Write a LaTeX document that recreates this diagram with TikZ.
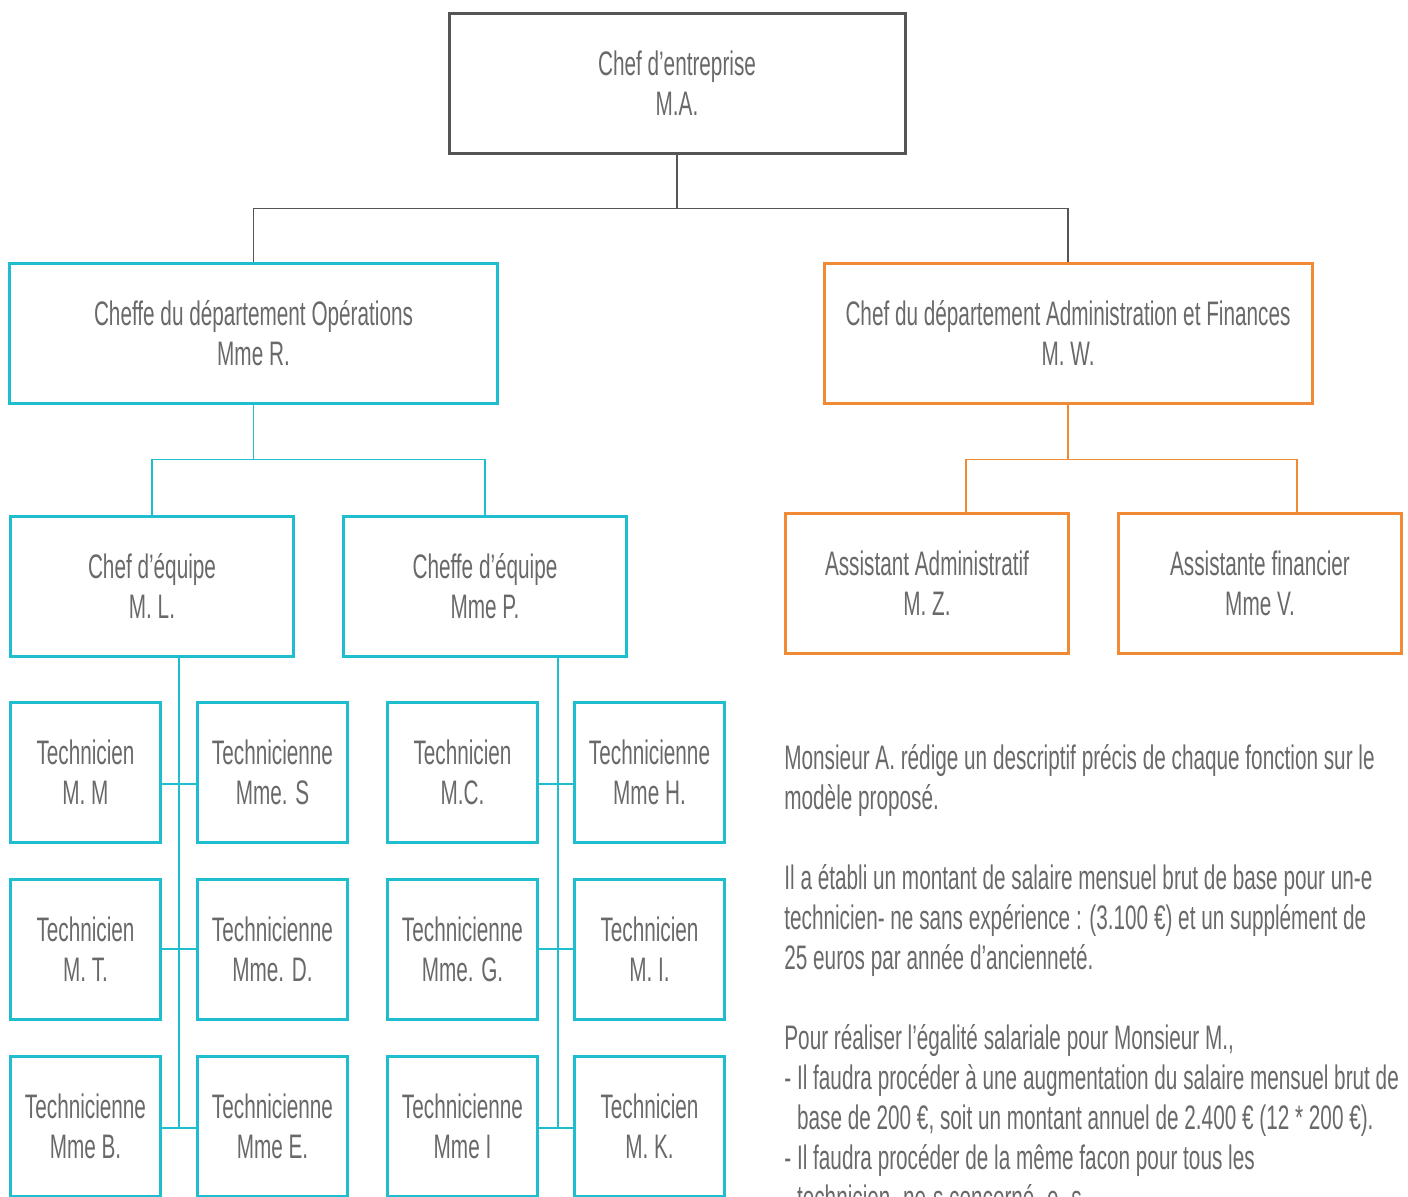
\documentclass[tikz,border=0pt]{standalone}
\usepackage{fontspec}
\setmainfont{Liberation Sans}[FakeStretch=0.61]
\usepackage{tikz}
\usetikzlibrary{shapes,positioning}
\usepackage{xcolor}
\definecolor{bossgray}{RGB}{85,85,85}
\definecolor{txtgray}{RGB}{105,105,105}
\definecolor{opscyan}{RGB}{30,190,206}
\definecolor{finorange}{RGB}{240,138,52}

\begin{document}
\begin{tikzpicture}[x=0.5pt,y=-0.5pt]
        \tikzstyle{block} = [rectangle, draw, line width=1.5pt, text=txtgray, align=center, inner sep=0pt, font=\fontsize{17}{20}\selectfont, minimum height=70pt]
        \tikzstyle{opsblock} = [block, draw=opscyan]
        \tikzstyle{finblock} = [block, draw=finorange]
        \tikzstyle{tech} = [opsblock, minimum width=75pt]
        \tikzstyle{link} = [line width=0.7pt]

        \useasboundingbox (0,0) rectangle (1408,1196);

        \node[block, draw=bossgray, minimum width=228pt] (chef) at (677,83) {Chef d’entreprise\\M.A.};
        \node[opsblock, minimum width=244pt] (ops) at (253.5,333) {Cheffe du département Opérations\\Mme R.};
        \node[finblock, minimum width=244pt] (admin) at (1068,333) {Chef du département Administration et Finances\\M. W.};

        \node[opsblock, minimum width=141.5pt] (ml) at (152,586) {Chef d’équipe\\M. L.};
        \node[opsblock, minimum width=141.5pt] (mp) at (485,586) {Cheffe d’équipe\\Mme P.};
        \node[finblock, minimum width=141.5pt] (asadm) at (927,583) {Assistant Administratif\\M. Z.};
        \node[finblock, minimum width=141.5pt] (asfin) at (1260,583) {Assistante financier\\Mme V.};

        % techniciens
        \node[tech] (tmm) at (85.5,772) {Technicien\\M. M};
        \node[tech] (tms) at (272.5,772) {Technicienne\\Mme. S};
        \node[tech] (tmc) at (462.5,772) {Technicien\\M.C.};
        \node[tech] (tmh) at (649.5,772) {Technicienne\\Mme H.};
        \node[tech] (tmt) at (85.5,949) {Technicien\\M. T.};
        \node[tech] (tmd) at (272.5,949) {Technicienne\\Mme. D.};
        \node[tech] (tmg) at (462.5,949) {Technicienne\\Mme. G.};
        \node[tech] (tmi) at (649.5,949) {Technicien\\M. I.};
        \node[tech] (tmb) at (85.5,1126) {Technicienne\\Mme B.};
        \node[tech] (tme) at (272.5,1126) {Technicienne\\Mme E.};
        \node[tech] (tmmi) at (462.5,1126) {Technicienne\\Mme I};
        \node[tech] (tmk) at (649.5,1126) {Technicien\\M. K.};

        \draw[link, bossgray] (chef.south) -- ++(0,54) -| (ops.north);
        \draw[link, bossgray] (chef.south) -- ++(0,54) -| (admin.north);
        \draw[link, opscyan] (ops.south) -- ++(0,55) -| (ml.north);
        \draw[link, opscyan] (ops.south) -- ++(0,55) -| (mp.north);
        \draw[link, finorange] (admin.south) -- ++(0,55) -| ([xshift=19.5pt]asadm.north);
        \draw[link, finorange] (admin.south) -- ++(0,55) -| ([xshift=18.5pt]asfin.north);

        \draw[link, opscyan] ([xshift=13.5pt]ml.south) |- ([yshift=-1pt]tmb.east);
        \draw[link, opscyan] ([xshift=36.5pt]mp.south) |- ([yshift=-1pt]tmmi.east);
        \foreach \a/\b/\s in {tmm/tms/-6, tmt/tmd/0, tmb/tme/-1, tmc/tmh/-6, tmg/tmi/0, tmmi/tmk/-1}
          \draw[link, opscyan] ([yshift=\s pt]\a.east) -- ([yshift=\s pt]\b.west);

        \node[anchor=north west, inner sep=0pt, align=left, text=txtgray, font=\fontsize{17}{20}\selectfont] (notes) at (784,744) {%
          Monsieur A. rédige un descriptif précis de chaque fonction sur le\\
          modèle proposé.\\[20pt]
          Il a établi un montant de salaire mensuel brut de base pour un-e\\
          technicien- ne sans expérience : (3.100 €) et un supplément de\\
          25 euros par année d’ancienneté.\\[20pt]
          Pour réaliser l’égalité salariale pour Monsieur M.,\\
          - Il faudra procéder à une augmentation du salaire mensuel brut de\\
          \hphantom{- }base de 200 €, soit un montant annuel de 2.400 € (12 * 200 €).\\
          - Il faudra procéder de la même facon pour tous les\\
          \hphantom{- }technicien- ne-s concerné- e- s};
\end{tikzpicture}
\end{document}
